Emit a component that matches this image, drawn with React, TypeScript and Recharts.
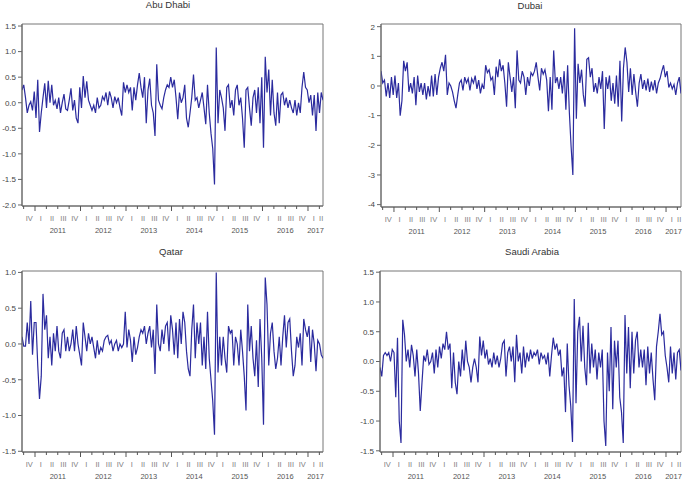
import React from "react";
import { LineChart, Line, XAxis, YAxis, ReferenceArea } from "recharts";

// sample window, in fractional years (biweekly points)
const START = 2010.714;
const END = 2017.33;

const abuDhabi = [
  0.25, 0.35, 0.1, -0.2, -0.05, 0.02, -0.15, 0.22,
  -0.3, 0.45, -0.57, -0.2, 0.1, 0.38, -0.1, 0.43, 0.0, 0.35, -0.05, 0.05, -0.12, 0.1, -0.2, 0.0, 0.17, -0.12, -0.15, 0.05, 0.28, -0.15, 0.05, -0.3, -0.4, 0.3,
  -0.1, 0.52, 0.1, 0.42, 0.05, -0.05, -0.15, -0.05, -0.2, 0.1, -0.1, -0.05, 0.12, 0.05, 0.2, -0.05, 0.22, 0.1, -0.1, 0.12, 0.0, 0.1, -0.1, -0.25, 0.4, 0.2,
  0.35, 0.2, 0.3, -0.15, 0.3, 0.05, 0.35, 0.58, 0.3, 0.1, 0.5, -0.4, 0.25, 0.47, -0.05, -0.2, -0.65, 0.75, 0.05, -0.05, -0.12, 0.1, 0.25, 0.35, 0.3, 0.5,
  0.3, 0.45, 0.1, -0.32, 0.2, 0.0, 0.1, 0.35, -0.3, -0.48, -0.2, 0.1, 0.55, 0.05, 0.1, -0.1, 0.05, 0.2, -0.1, -0.42, 0.35, -0.2, -0.6, -0.9, -1.6, 1.08, -0.4,
  0.25, 0.1, -0.1, -0.55, 0.3, 0.35, -0.1, 0.05, -0.25, 0.25, 0.35, -0.05, 0.1, -0.3, -0.88, 0.25, 0.3, -0.1, -0.45, 0.1, 0.25, -0.2, 0.3, -0.4, 0.5,
  -0.88, 0.9, 0.2, 0.65, -0.25, 0.45, -0.2, -0.45, 0.2, -0.4, 0.15, 0.2, -0.05, 0.1, -0.1, 0.05, -0.1, -0.2, 0.05, -0.25, 0.0, -0.2, 0.3, 0.6, 0.3, 0.25,
  0.0, 0.15, -0.25, 0.15, -0.55, 0.2, -0.2, 0.2, 0.05,
];

const dubai = [
  0.5, 0.1, 0.2, -0.35, 0.1, -0.4, 0.3, -0.3, 0.35, -0.4, 0.1, -1.0, -0.5, 0.85, 0.5, 0.8, -0.2, 0.1, -0.25, 0.3, -0.65, 0.35, -0.2, 0.1, -0.3, 0.1, -0.45, 0.0, -0.35, 0.35, -0.35, 0.4, -0.3, 0.3,
  0.6, 0.8, 0.5, 1.05, -0.3, 0.1, 0.0, -0.2, -0.5, -0.75, -0.3, 0.1, 0.2, -0.15, 0.3, 0.1, 0.25, -0.15, 0.25, 0.1, 0.35, -0.1, 0.2, -0.25, 0.05, -0.1,
  0.7, 0.45, 0.55, 0.2, 0.3, -0.3, 0.65, 0.3, 0.9, 0.5, 0.7, 0.1, -0.7, 0.8, 0.3, -0.2, 0.3, -0.75, 1.2, 0.2, 0.1, 0.5, 0.3, -0.3, 0.3, 0.0,
  0.45, 0.35, 0.5, 0.8, 0.3, -0.15, 0.6, 0.4, 0.55, 0.2, -0.85, 0.3, -0.8, 1.2, 0.1, 0.3, -0.1, 0.3, -0.25, 0.5, -0.8, 0.7, -0.9, -2.05, -3.0, 1.95, -1.1, 0.75, 0.1, 0.55, -0.3, -0.7,
  0.9, 0.95, 0.3, 0.6, -0.2, 0.1, -0.25, 0.3, -0.1, 0.5, -1.45, 0.3, -0.1, 0.35, -0.5, 0.1, -0.6, 0.35, -0.7, 0.85,
  -1.2, 0.6, 1.3, 0.8, -0.2, 0.6, -0.3, 0.4, -0.2, -0.7, 0.1, 0.4, -0.1, 0.2, -0.15, 0.25, -0.2, 0.15, -0.15, 0.2, -0.25, 0.1, 0.25, 0.5, 0.7, 0.3,
  0.5, -0.05, 0.1, -0.1, 0.05, -0.3, 0.1, 0.3, -0.25,
];

const qatar = [
  0.1, -0.03, -0.03, 0.3, 0.0, 0.6, -0.15, 0.3, 0.3, -0.3, -0.77, -0.45, 0.7, 0.2, 0.4, -0.2, 0.1, -0.3, 0.15, -0.1, 0.25, -0.1, -0.2, 0.15, 0.2, -0.1, 0.1, -0.1, 0.0, 0.2, -0.1, 0.25, 0.0, -0.15,
  -0.3, 0.3, 0.1, -0.1, 0.15, 0.0, 0.1, -0.05, -0.2, 0.05, -0.15, -0.05, -0.1, 0.05, 0.1, 0.12, 0.0, 0.05, -0.1, 0.0, 0.05, -0.1, 0.0, -0.05, 0.0, 0.45,
  -0.05, 0.2, 0.05, -0.25, 0.1, -0.15, -0.05, 0.1, 0.2, 0.15, 0.25, 0.0, 0.15, 0.25, -0.05, 0.2, -0.42, 0.55, 0.0, -0.1, 0.2, 0.0, 0.25, 0.3, -0.1, 0.4,
  0.2, -0.15, 0.3, -0.2, 0.35, 0.0, 0.45, 0.3, -0.1, -0.35, -0.45, 0.2, 0.55, -0.2, 0.3, 0.0, 0.3, -0.3, 0.1, -0.35, 0.45, -0.2, -0.5, -0.8, -1.27, 1.0, -0.4,
  0.1, -0.3, 0.1, -0.2, -0.4, 0.25, 0.15, 0.2, -0.3, 0.1, 0.0, -0.3, 0.2, -0.1, -0.45, -0.93, 0.55, -0.1, 0.25, -0.2, -0.45, 0.05, -0.6, 0.35, -0.2,
  -1.13, 0.93, 0.55, -0.3, 0.15, 0.3, -0.1, -0.35, -0.2, 0.1, -0.3, 0.1, 0.4, -0.05, 0.3, 0.35, -0.1, -0.45, -0.3, 0.1, -0.05, 0.15, -0.3, 0.35, 0.2, 0.1,
  0.25, -0.25, 0.2, 0.0, -0.38, 0.05, 0.0, -0.15, -0.2,
];

const saudiArabia = [
  -0.1, -0.25, 0.1, 0.15, 0.1, 0.15, 0.0, 0.2, 0.15, -0.6, 0.4, -1.0, -1.37, 0.7, 0.45, 0.0, 0.2, -0.1, 0.28, 0.1, -0.25, 0.2, -0.2, -0.83, -0.35, 0.1, 0.0, 0.2, -0.05, 0.0, 0.15, -0.2, 0.2, -0.1,
  0.25, 0.05, 0.3, 0.2, 0.5, 0.2, 0.3, -0.45, 0.15, -0.35, -0.55, 0.0, -0.25, 0.2, -0.15, 0.35, 0.0, -0.1, -0.35, -0.1, 0.05, -0.1, -0.35, 0.42, 0.1, 0.35,
  0.05, 0.2, -0.05, 0.05, -0.1, 0.15, -0.05, 0.1, -0.1, 0.05, 0.3, 0.35, -0.25, 0.15, 0.25, 0.0, 0.25, -0.35, 0.45, 0.0, 0.15, -0.2, 0.25, -0.1, 0.15, 0.0,
  0.2, 0.05, 0.15, 0.1, 0.2, -0.05, 0.15, 0.05, 0.1, -0.05, 0.15, -0.25, 0.1, 0.4, 0.2, 0.3, 0.1, 0.2, -0.25, -0.1, -0.85, 0.3, -0.4, -0.75, -1.35, 1.05, -0.7,
  0.5, 0.75, 0.0, 0.6, -0.1, -0.4, 0.65, -0.2, 0.3, -0.1, 0.2, -0.3, 0.15, -0.1, 0.2, -1.0, -1.42, 0.15, -0.5, 0.58, -0.8, 0.35, -0.1, 0.35, -0.6,
  -0.85, -1.37, 0.78, -0.2, 0.58, -0.45, 0.5, -0.2, 0.35, 0.5, -0.1, 0.2, -0.1, 0.2, -0.4, 0.25, -0.2, 0.15, -0.3, -0.65, 0.25, 0.5, 0.8, 0.45, 0.5, 0.1,
  -0.1, -0.35, 0.25, -0.2, 0.15, -0.3, 0.15, 0.2, -0.15,
];

const QUARTER_BOUNDS = [
  2010.75, 2011, 2011.25, 2011.5, 2011.75, 2012, 2012.25, 2012.5, 2012.75,
  2013, 2013.25, 2013.5, 2013.75, 2014, 2014.25, 2014.5, 2014.75,
  2015, 2015.25, 2015.5, 2015.75, 2016, 2016.25, 2016.5, 2016.75, 2017, 2017.25,
];
const QUARTER_NAMES = [
  "IV",
  "I", "II", "III", "IV", "I", "II", "III", "IV", "I", "II", "III", "IV",
  "I", "II", "III", "IV", "I", "II", "III", "IV", "I", "II", "III", "IV",
  "I", "II",
];
const YEARS = [2011, 2012, 2013, 2014, 2015, 2016, 2017];

const quarterLabelAt = new Map<number, string>();
QUARTER_BOUNDS.forEach((b, i) => {
  const next = i + 1 < QUARTER_BOUNDS.length ? QUARTER_BOUNDS[i + 1] : END;
  quarterLabelAt.set((b + next) / 2, QUARTER_NAMES[i]);
});
const yearLabelAt = new Map<number, string>();
YEARS.forEach((y) => {
  const mid = y + 0.5 < END ? y + 0.5 : (y + END) / 2;
  yearLabelAt.set(mid, String(y));
});
const boundSet = new Set(QUARTER_BOUNDS);
const timeTicks = Array.from(
  new Set([...QUARTER_BOUNDS, ...quarterLabelAt.keys(), ...yearLabelAt.keys()])
).sort((a, b) => a - b);

const toRows = (vals: number[]) =>
  vals.map((v, i) => ({ t: START + (i * (END - START)) / (vals.length - 1), v }));

const FONT = "'Liberation Sans', Arial, sans-serif";

function TimeTick(props: any) {
  const { x, y, payload } = props;
  const v = payload.value;
  const q = quarterLabelAt.get(v);
  const yr = yearLabelAt.get(v);
  return (
    <g>
      {boundSet.has(v) && (
        <line x1={x} x2={x} y1={y} y2={y + (Number.isInteger(v) ? 5 : 3)} stroke="#555" />
      )}
      {q && (
        <text x={x} y={y + 15} textAnchor="middle" fontSize={7.5} fill="#808080" fontFamily={FONT}>
          {q}
        </text>
      )}
      {yr && (
        <text x={x} y={y + 27} textAnchor="middle" fontSize={7.5} fill="#555" fontFamily={FONT}>
          {yr}
        </text>
      )}
    </g>
  );
}

type PanelProps = {
  title: string;
  values: number[];
  left: number;
  top: number;
  width: number;
  height: number;
  yWidth: number;
  right: number;
  plotTop: number;
  xHeight: number;
  domain: [number, number];
  ticks: number[];
  digits: number;
  titleX: number;
  titleY: number;
};

function Panel(p: PanelProps) {
  const data = toRows(p.values);
  return (
    <div style={{ position: "absolute", left: p.left, top: p.top, width: p.width, height: p.height }}>
      <div
        style={{
          position: "absolute",
          left: p.titleX - 60,
          top: p.titleY - 6,
          width: 120,
          textAlign: "center",
          fontSize: 9.5,
          lineHeight: "12px",
          color: "#333",
          fontFamily: FONT,
        }}
      >
        {p.title}
      </div>
      <LineChart
        width={p.width}
        height={p.height}
        data={data}
        margin={{ top: p.plotTop, right: p.right, bottom: 0, left: 0 }}
      >
        <XAxis
          dataKey="t"
          type="number"
          domain={[START, END]}
          allowDataOverflow
          ticks={timeTicks}
          interval={0}
          tick={<TimeTick />}
          tickLine={false}
          tickSize={0}
          tickMargin={0}
          height={p.xHeight}
          axisLine={{ stroke: "#666" }}
        />
        <YAxis
          type="number"
          domain={p.domain}
          allowDataOverflow
          ticks={p.ticks}
          interval={0}
          width={p.yWidth}
          tickSize={4}
          tickMargin={2}
          tickFormatter={(v: number) => v.toFixed(p.digits)}
          tick={{ fontSize: 8, fill: "#444", fontFamily: FONT }}
          tickLine={{ stroke: "#666" }}
          axisLine={{ stroke: "#666" }}
        />
        <ReferenceArea
          x1={START}
          x2={END}
          y1={p.domain[0]}
          y2={p.domain[1]}
          fill="none"
          stroke="#777"
          ifOverflow="visible"
        />
        <Line
          type="linear"
          dataKey="v"
          stroke="#2b2b9e"
          strokeWidth={1.2}
          dot={false}
          isAnimationActive={false}
        />
      </LineChart>
    </div>
  );
}

export default function App() {
  return (
    <div
      style={{
        position: "absolute",
        left: 0,
        top: 0,
        width: 685,
        height: 481,
        background: "#fff",
        overflow: "hidden",
      }}
    >
      <Panel
        title="Abu Dhabi"
        values={abuDhabi}
        left={0}
        top={0}
        width={340}
        height={240}
        yWidth={22}
        right={17}
        plotTop={24}
        xHeight={34}
        domain={[-2.02, 1.54]}
        ticks={[-2, -1.5, -1, -0.5, 0, 0.5, 1, 1.5]}
        digits={1}
        titleX={168}
        titleY={5}
      />
      <Panel
        title="Dubai"
        values={dubai}
        left={340}
        top={0}
        width={345}
        height={240}
        yWidth={41}
        right={4}
        plotTop={24}
        xHeight={33}
        domain={[-4.08, 2.09]}
        ticks={[-4, -3, -2, -1, 0, 1, 2]}
        digits={0}
        titleX={190}
        titleY={6}
      />
      <Panel
        title="Qatar"
        values={qatar}
        left={0}
        top={240}
        width={340}
        height={241}
        yWidth={22}
        right={17}
        plotTop={31}
        xHeight={29}
        domain={[-1.51, 1.02]}
        ticks={[-1.5, -1, -0.5, 0, 0.5, 1]}
        digits={1}
        titleX={171}
        titleY={12}
      />
      <Panel
        title="Saudi Arabia"
        values={saudiArabia}
        left={340}
        top={240}
        width={345}
        height={241}
        yWidth={40}
        right={4}
        plotTop={31}
        xHeight={29}
        domain={[-1.52, 1.52]}
        ticks={[-1.5, -1, -0.5, 0, 0.5, 1, 1.5]}
        digits={1}
        titleX={192}
        titleY={12}
      />
    </div>
  );
}
